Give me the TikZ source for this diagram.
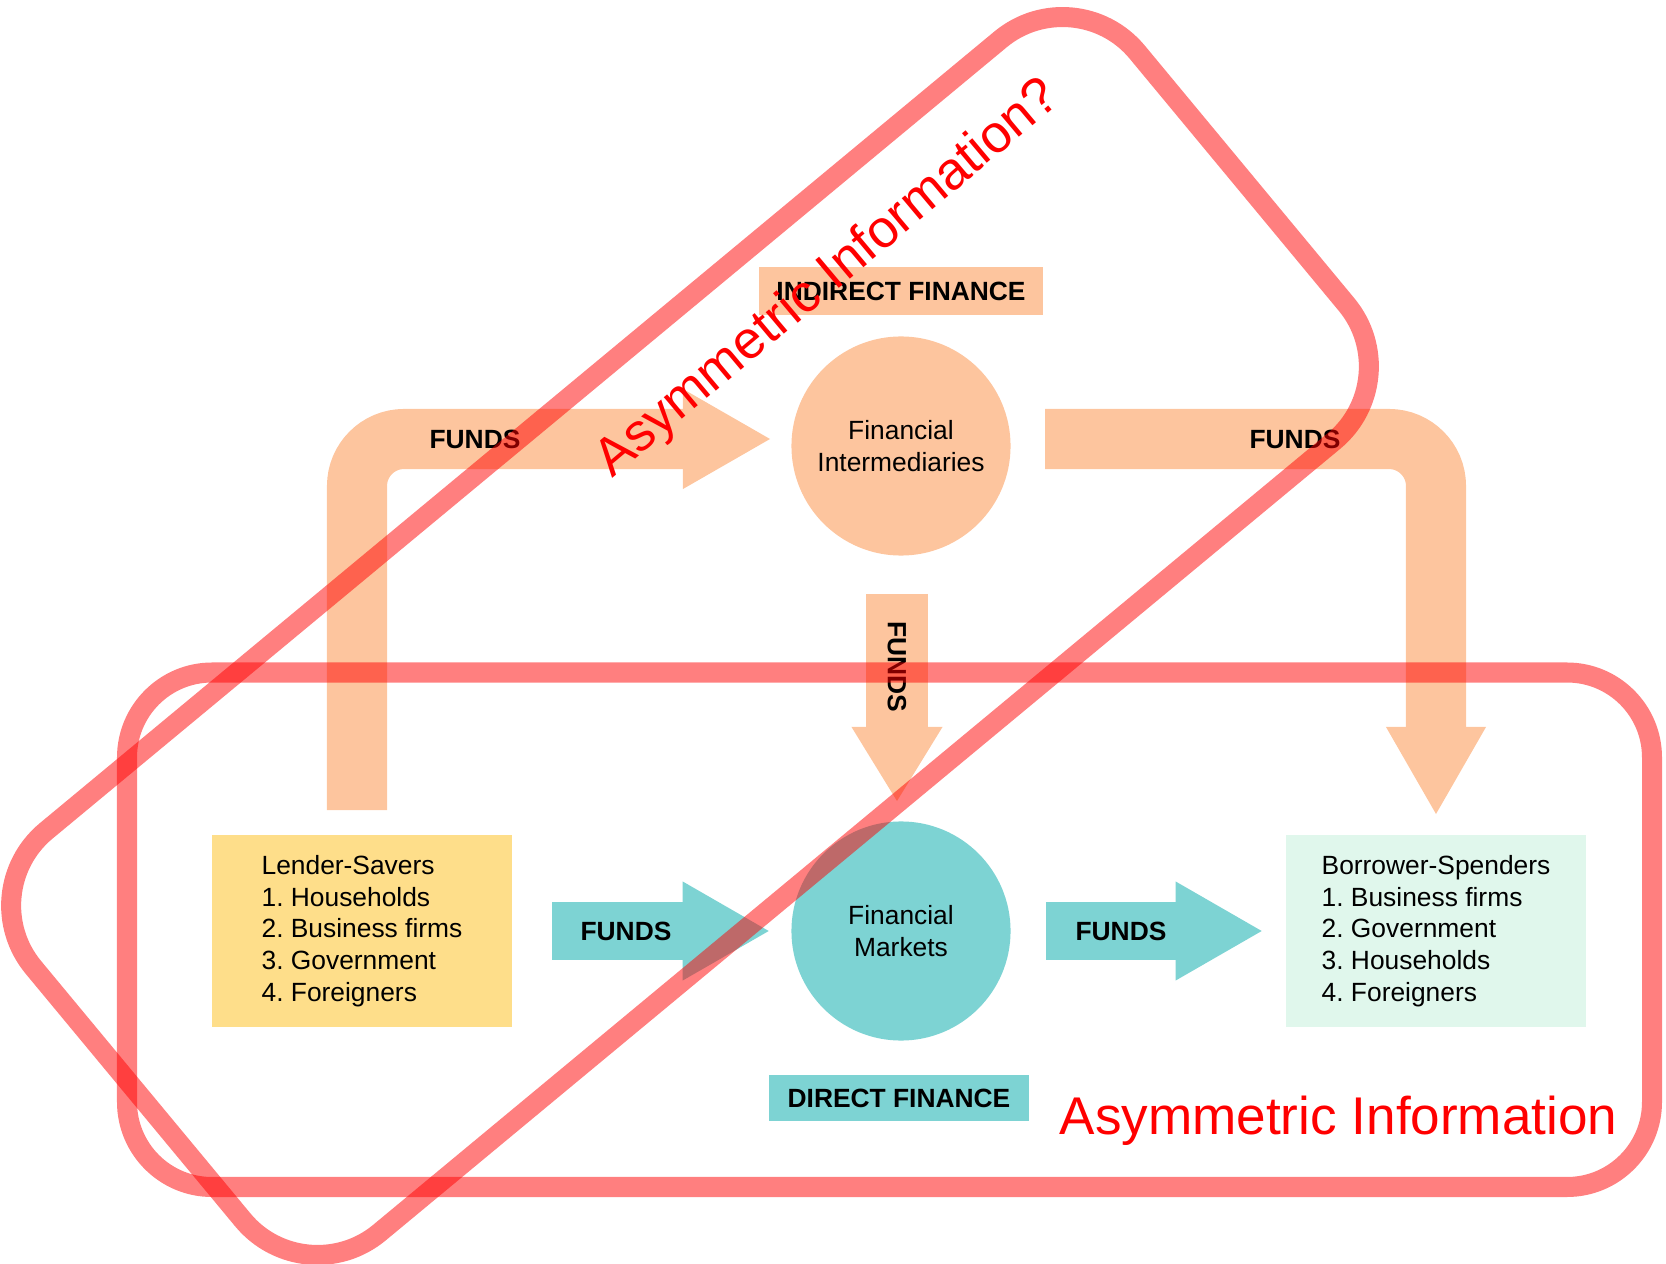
\documentclass[tikz,border=0pt]{standalone}
\usepackage{fontspec}
\setmainfont{Liberation Sans}
\usetikzlibrary{arrows.meta}
\definecolor{fipeach}{RGB}{253,197,158}
\definecolor{fmteal}{RGB}{125,211,211}
\definecolor{lsyellow}{RGB}{254,222,138}
\definecolor{bsmint}{RGB}{224,247,236}
\frenchspacing

\begin{document}
\begin{tikzpicture}[
    x = 0.01cm, y = -0.01cm,
    txt/.style = {font=\fontsize{7.5}{9}\selectfont},
    bold/.style = {font=\fontsize{7.5}{9}\selectfont\bfseries},
    sector/.style = {txt, align=left, minimum width=2.99cm, minimum height=1.915cm, inner sep=0},
    inst/.style = {txt, circle, align=center, minimum size=2.19cm, inner sep=0},
    tag/.style = {bold, minimum width=2.6cm, minimum height=0.46cm, inner sep=0},
    peach/.style = {fipeach, line width=0.6cm, rounded corners=0.47cm, -{Triangle[length=0.87cm, width=1cm, line width=0pt]}},
    tealflow/.style = {fmteal, line width=0.585cm, -{Triangle[length=0.86cm, width=0.99cm, line width=0pt]}},
    band/.style = {red, opacity=0.5, line width=0.2cm},
]
\useasboundingbox (0,0) rectangle (1666,1264);

% sectors and institutions
\node[sector, fill=lsyellow] (ls) at (362,931) {Lender-Savers\\1. Households\\2. Business firms\\3. Government\\4. Foreigners};
\node[sector, fill=bsmint] (bs) at (1436,931) {Borrower-Spenders\\1. Business firms\\2. Government\\3. Households\\4. Foreigners};
\node[inst, fill=fipeach] (fi) at (901,446) {Financial\\Intermediaries};
\node[inst, fill=fmteal] (fm) at (901,931) {Financial\\Markets};
\node[tag, fill=fipeach, minimum width=2.83cm, minimum height=0.47cm] (indirect) at (901,291) {INDIRECT FINANCE};
\node[tag, fill=fmteal] (direct) at (899,1098) {DIRECT FINANCE};

% flows of funds
\coordinate (ls out) at (357,810);
\coordinate (fi in) at (770,439);
\coordinate (fi out) at (1045,439);
\coordinate (bs in) at (1436,814);
\draw[peach] (ls out) |- (fi in);
\draw[peach] (fi out) -| (bs in);
\draw[fipeach, line width=0.61cm, -{Triangle[length=0.74cm, width=0.91cm, line width=0pt]}] (897,594) -- (897,801);
\draw[tealflow] ([xshift=0.4cm]ls.east) -- ([xshift=-0.22cm]fm.west);
\draw[tealflow] ([xshift=0.345cm]fm.east) -- ([xshift=-0.24cm]bs.west);

\node[bold] (f1) at (475,439) {FUNDS};
\node[bold] (f2) at (1295,439) {FUNDS};
\node[bold, rotate=-90] (f3) at (897,667) {FUNDS};
\node[bold] (f4) at (626,931) {FUNDS};
\node[bold] (f5) at (1121,931) {FUNDS};

% asymmetric information
\draw[band] (127,672.5) [rounded corners=0.85cm] rectangle (1652,1187);
\begin{scope}[shift={(690,636)}, rotate=39.67]
\draw[band, rounded corners=0.97cm] (-717,-261) rectangle (717,261);
\end{scope}
\node[text=red, inner sep=0, anchor=base west, font=\fontsize{15.1}{18}\selectfont] (ai) at (1059,1134) {Asymmetric Information};
\node[text=red, inner sep=0, anchor=base, rotate=40, font=\fontsize{15.1}{18}\selectfont] (aiq) at (837,290) {Asymmetric Information?};

\end{tikzpicture}
\end{document}
